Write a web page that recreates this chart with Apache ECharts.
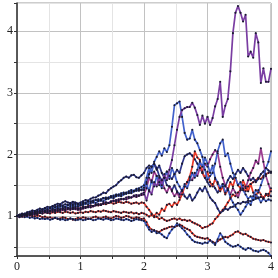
<!DOCTYPE html>
<html><head><meta charset="utf-8">
<script src="https://cdn.jsdelivr.net/npm/echarts@6/dist/echarts.min.js"></script>
<style>html,body{margin:0;padding:0;background:#fff}#c{width:278px;height:278px}</style>
</head><body><div id="c"></div>
<script>
// time grid (step 0.04 from 0 to 4)
const dt = 0.04;
const times = Array.from({length: 101}, (_, i) => +(i * dt).toFixed(2));
const xTickLabels = ['0', '1', '2', '3', '4'];
const yTickLabels = ['1', '2', '3', '4'];

const pathPurpleTop = [
1.00,1.01,1.03,1.02,1.04,1.05,1.04,1.06,1.07,1.06,1.08,
1.07,1.09,1.08,1.10,1.09,1.11,1.10,1.12,1.11,1.13,
1.12,1.11,1.13,1.12,1.12,1.14,1.15,1.14,1.17,1.16,
1.18,1.19,1.18,1.21,1.22,1.21,1.24,1.25,1.24,1.27,
1.28,1.27,1.30,1.31,1.30,1.33,1.34,1.33,1.36,1.38,
1.25,1.42,1.35,1.55,1.48,1.62,1.50,1.68,1.58,1.75,
1.91,2.15,2.40,2.61,2.72,2.75,2.77,2.77,2.84,2.76,
2.64,2.48,2.63,2.50,2.61,2.48,2.59,2.78,2.90,3.18,
2.61,2.79,2.90,3.35,3.97,4.30,4.41,4.30,4.16,4.27,
3.59,3.67,3.57,3.97,3.82,3.16,3.40,3.18,3.18,3.39];

const pathBluePeak = [
1.00,1.02,1.01,1.04,1.03,1.05,1.07,1.06,1.08,1.07,1.10,
1.09,1.11,1.13,1.12,1.14,1.13,1.15,1.16,1.15,1.17,
1.18,1.17,1.19,1.18,1.20,1.22,1.21,1.23,1.24,1.23,
1.26,1.27,1.26,1.29,1.30,1.29,1.32,1.33,1.35,1.34,
1.37,1.38,1.37,1.40,1.42,1.41,1.44,1.45,1.47,1.50,
1.62,1.78,1.70,1.88,1.96,2.05,1.98,2.10,2.04,2.15,
2.45,2.80,2.83,2.86,2.61,2.35,2.24,2.26,2.40,2.24,
2.18,2.07,1.96,1.75,1.59,1.65,1.70,1.85,2.05,2.18,
2.24,1.97,2.02,1.85,1.70,1.62,1.50,1.55,1.42,1.35,
1.28,1.32,1.26,1.35,1.30,1.22,1.28,1.24,1.27,1.25];

const pathBlueEndHigh = [
1.00,0.99,1.01,1.03,1.02,1.04,1.03,1.05,1.06,1.05,1.07,
1.08,1.07,1.09,1.11,1.10,1.12,1.11,1.13,1.14,1.13,
1.15,1.14,1.16,1.15,1.17,1.18,1.20,1.19,1.21,1.22,
1.21,1.24,1.25,1.24,1.27,1.28,1.30,1.29,1.32,1.33,
1.32,1.35,1.36,1.38,1.37,1.40,1.41,1.43,1.42,1.46,
1.52,1.40,1.58,1.48,1.65,1.55,1.45,1.62,1.72,1.60,
1.78,1.68,1.55,1.48,1.40,1.52,1.45,1.58,1.70,1.62,
1.75,1.88,1.80,1.95,1.85,1.70,1.82,1.62,1.55,1.45,
1.52,1.38,1.45,1.30,1.22,1.15,1.10,1.02,1.08,1.15,
1.22,1.18,1.32,1.42,1.38,1.50,1.62,1.78,1.88,2.05];

const pathNavyTop = [
1.00,1.02,1.04,1.03,1.06,1.07,1.09,1.08,1.10,1.12,1.11,
1.13,1.15,1.14,1.16,1.18,1.20,1.19,1.22,1.24,1.22,
1.21,1.23,1.22,1.20,1.22,1.24,1.26,1.25,1.28,1.30,
1.30,1.33,1.35,1.38,1.37,1.42,1.45,1.48,1.50,1.55,
1.58,1.62,1.64,1.62,1.66,1.67,1.63,1.62,1.66,1.70,
1.78,1.82,1.80,1.85,1.78,1.65,1.58,1.62,1.50,1.48,
1.42,1.50,1.40,1.35,1.42,1.32,1.28,1.35,1.25,1.30,
1.38,1.45,1.40,1.48,1.39,1.30,1.25,1.21,1.12,1.05,
1.08,1.12,1.10,1.14,1.15,1.18,1.21,1.20,1.23,1.22,
1.25,1.24,1.26,1.28,1.29,1.31,1.30,1.34,1.36,1.32];

const pathRedMid = [
1.00,1.01,0.99,1.02,1.03,1.02,1.04,1.05,1.04,1.06,1.07,
1.06,1.08,1.09,1.08,1.10,1.09,1.11,1.12,1.11,1.13,
1.12,1.14,1.13,1.12,1.13,1.15,1.14,1.16,1.17,1.16,
1.18,1.17,1.19,1.20,1.19,1.21,1.22,1.20,1.21,1.23,
1.22,1.21,1.23,1.22,1.20,1.21,1.22,1.20,1.22,1.21,
1.15,1.10,1.04,1.00,1.05,1.02,1.12,1.08,1.18,1.20,
1.15,1.22,1.18,1.26,1.35,1.48,1.55,1.64,1.80,2.05,
1.95,1.91,1.70,1.62,1.72,1.55,1.48,1.60,1.52,1.40,
1.48,1.35,1.42,1.55,1.48,1.62,1.50,1.45,1.58,1.48,
1.40,1.52,1.38,1.30,1.42,1.35,1.28,1.36,1.32,1.45];

const pathNavyMid = [
1.00,1.02,1.01,1.03,1.05,1.04,1.06,1.08,1.07,1.09,1.10,
1.12,1.11,1.13,1.15,1.14,1.16,1.18,1.17,1.19,1.18,
1.20,1.19,1.21,1.20,1.18,1.20,1.22,1.24,1.23,1.25,
1.26,1.25,1.27,1.29,1.28,1.30,1.32,1.31,1.33,1.35,
1.34,1.36,1.38,1.37,1.39,1.40,1.42,1.41,1.43,1.42,
1.55,1.68,1.80,1.84,1.75,1.82,1.70,1.62,1.72,1.65,
1.60,1.68,1.75,1.70,1.85,1.97,2.00,2.02,1.98,1.92,
1.85,1.78,1.70,1.62,1.55,1.48,1.52,1.45,1.38,1.45,
1.52,1.48,1.58,1.65,1.60,1.68,1.75,1.70,1.78,1.72,
1.65,1.58,1.62,1.55,1.60,1.68,1.72,1.78,1.74,1.70];

const pathMagenta = [
1.00,0.98,1.00,1.01,1.00,1.02,1.03,1.02,1.04,1.05,1.04,
1.06,1.05,1.07,1.08,1.07,1.09,1.08,1.10,1.09,1.11,
1.10,1.12,1.11,1.10,1.10,1.12,1.13,1.15,1.14,1.16,
1.17,1.19,1.18,1.20,1.22,1.21,1.23,1.24,1.26,1.25,
1.27,1.28,1.27,1.29,1.30,1.32,1.31,1.33,1.34,1.35,
1.45,1.62,1.55,1.72,1.65,1.50,1.58,1.45,1.38,1.48,
1.40,1.32,1.38,1.30,1.42,1.48,1.55,1.62,1.58,1.70,
1.65,1.78,1.72,1.85,1.80,1.92,2.00,2.07,2.02,1.80,
1.62,1.50,1.42,1.35,1.45,1.38,1.30,1.42,1.50,1.45,
1.58,1.70,1.78,1.90,1.85,2.10,1.88,1.65,1.52,1.40];

const pathRedDipRise = [
1.00,1.01,1.00,1.02,1.01,1.03,1.02,1.04,1.03,1.05,1.04,
1.06,1.05,1.04,1.06,1.05,1.07,1.06,1.05,1.07,1.06,
1.05,1.06,1.04,1.05,1.06,1.05,1.07,1.06,1.08,1.07,
1.06,1.08,1.07,1.09,1.08,1.07,1.06,1.08,1.07,1.06,
1.05,1.07,1.06,1.05,1.06,1.04,1.05,1.03,1.05,1.04,
1.02,0.99,1.02,0.98,0.99,0.95,0.97,0.94,0.92,0.93,
0.95,0.96,0.94,0.96,0.93,0.94,0.92,0.93,0.90,0.88,
0.86,0.84,0.80,0.82,0.83,0.86,0.88,0.95,0.99,1.05,
1.10,1.15,1.22,1.28,1.35,1.32,1.38,1.42,1.45,1.40,
1.48,1.52,1.55,1.58,1.62,1.60,1.65,1.68,1.70,1.72];

const pathRedLow = [
1.00,1.01,0.99,1.00,1.02,1.01,1.00,0.99,1.01,1.00,0.98,
0.99,0.97,0.98,0.96,0.97,0.95,0.96,0.98,0.97,0.95,
0.96,0.94,0.95,0.97,0.96,0.98,0.97,0.95,0.96,0.98,
0.99,0.97,0.96,0.98,0.99,0.97,0.96,0.98,1.00,0.99,
0.97,0.98,1.00,0.99,0.97,0.96,0.98,0.97,0.95,0.96,
0.90,0.82,0.78,0.76,0.75,0.74,0.77,0.79,0.80,0.82,
0.83,0.82,0.84,0.86,0.84,0.81,0.79,0.77,0.72,0.68,
0.66,0.65,0.64,0.63,0.64,0.60,0.58,0.56,0.59,0.62,
0.64,0.66,0.65,0.68,0.70,0.74,0.75,0.72,0.70,0.71,
0.68,0.66,0.63,0.62,0.61,0.60,0.61,0.59,0.58,0.57];

const pathBlueLow = [
1.00,0.99,1.00,0.98,0.99,0.97,0.98,0.96,0.97,0.95,0.96,
0.95,0.96,0.94,0.95,0.97,0.96,0.94,0.95,0.93,0.94,
0.96,0.95,0.93,0.94,0.95,0.93,0.94,0.96,0.95,0.93,
0.94,0.96,0.95,0.94,0.96,0.95,0.93,0.94,0.96,0.95,
0.94,0.93,0.95,0.94,0.92,0.93,0.95,0.94,0.93,0.92,
0.85,0.78,0.74,0.77,0.72,0.73,0.70,0.66,0.64,0.72,
0.78,0.82,0.88,0.84,0.80,0.76,0.70,0.66,0.61,0.58,
0.57,0.56,0.55,0.57,0.56,0.61,0.57,0.53,0.62,0.72,
0.66,0.58,0.55,0.52,0.50,0.51,0.53,0.50,0.47,0.45,
0.48,0.47,0.44,0.43,0.42,0.44,0.45,0.43,0.40,0.35];

const PURPLE = '#7a3da2', BLUE = '#4262cc', RED = '#ea3a28', NAVY = '#2e3588', MAGENTA = '#9c3c90';
const paths = [
  {data: pathRedLow, color: RED},
  {data: pathBlueLow, color: BLUE},
  {data: pathRedDipRise, color: RED},
  {data: pathNavyTop, color: NAVY},
  {data: pathNavyMid, color: NAVY},
  {data: pathMagenta, color: MAGENTA},
  {data: pathRedMid, color: RED},
  {data: pathBlueEndHigh, color: BLUE},
  {data: pathBluePeak, color: BLUE},
  {data: pathPurpleTop, color: PURPLE}
];

const chart = echarts.init(document.getElementById('c'), null, {renderer: 'canvas'});
const font = '"Liberation Serif", "DejaVu Serif", serif';
chart.setOption({
  animation: false,
  backgroundColor: '#fff',
  grid: {left: 17, right: 7, top: 3, bottom: 22, show: true, borderColor: '#9a9a9a', borderWidth: 1, outerBoundsMode: 'none'},
  xAxis: {
    type: 'value', min: 0, max: 4, interval: 0.5,
    axisLine: {lineStyle: {color: '#333', width: 1.5}},
    axisTick: {show: true, length: 3, lineStyle: {color: '#333'}},
    axisLabel: {color: '#222', fontFamily: font, fontSize: 12, margin: 5,
      formatter: v => { const s = String(v); return xTickLabels.includes(s) ? s : ''; }},
    splitLine: {show: true, lineStyle: {color: ['#c2c2c2', '#e4e4e4'], width: 1}}
  },
  yAxis: {
    type: 'value', min: 0.35, max: 4.46, splitNumber: 8,
    axisLine: {show: true, lineStyle: {color: '#333', width: 1.5}},
    axisTick: {show: true, length: 3, lineStyle: {color: '#333'}},
    axisLabel: {color: '#222', fontFamily: font, fontSize: 12, margin: 4,
      formatter: v => { const s = String(+v.toFixed(2)); return yTickLabels.includes(s) ? s : ''; }},
    splitLine: {show: true, lineStyle: {color: ['#c2c2c2', '#e4e4e4'], width: 1}}
  },
  series: paths.map(p => ({
    type: 'line',
    data: times.map((t, i) => [t, p.data[i]]),
    showSymbol: true, showAllSymbol: true,
    symbol: 'circle', symbolSize: 2.1,
    itemStyle: {color: '#1a1a30', borderWidth: 0},
    lineStyle: {color: p.color, width: 1.7},
    emphasis: {disabled: true},
    z: 2
  }))
});
</script></body></html>
